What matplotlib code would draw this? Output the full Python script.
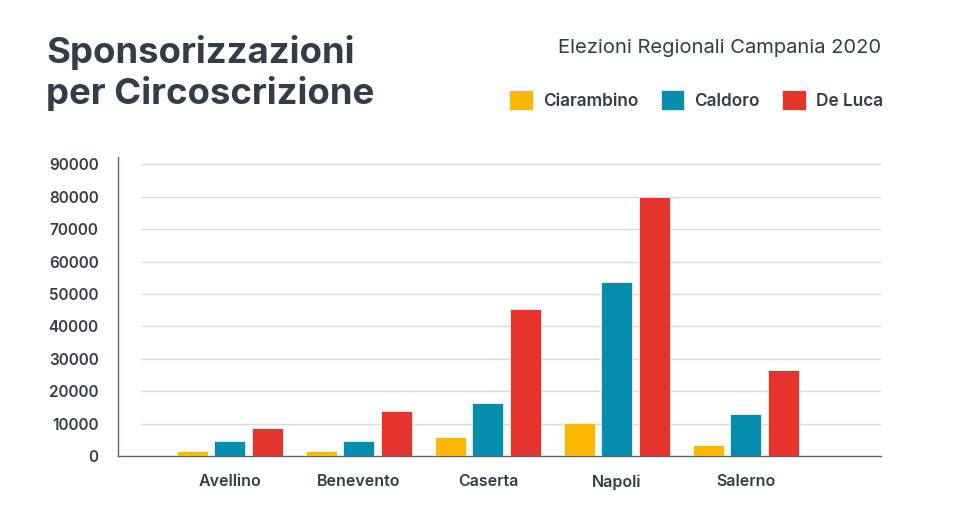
import matplotlib
matplotlib.use("Agg")
import matplotlib.pyplot as plt
import numpy as np

categories = ["Avellino", "Benevento", "Caserta", "Napoli", "Salerno"]
series_names = ["Ciarambino", "Caldoro", "De Luca"]
ciarambino = [1500, 1500, 5800, 10100, 3300]
caldoro = [4500, 4500, 16400, 53800, 12900]
de_luca = [8700, 13800, 45300, 80000, 26400]
yticks = [0, 10000, 20000, 30000, 40000, 50000, 60000, 70000, 80000, 90000]

colors = ["#FDB900", "#058DAD", "#E4342B"]
text_color = "#333D4A"
plt.rcParams['font.family'] = ['Inter', 'DejaVu Sans']

fig = plt.figure(figsize=(9.64, 5.12), dpi=100)
ax = fig.add_axes([118/964, 1-456/512, (881-118)/964, (456-157)/512])

x = np.arange(len(categories))
w = 0.24
step = 0.29
for i, (vals, name) in enumerate(zip([ciarambino, caldoro, de_luca], series_names)):
    ax.bar(x + (i-1)*step, vals, width=w, color=colors[i], label=name, zorder=3,
           edgecolor="white", linewidth=0.5)

ax.set_xlim(-0.868, 5.047)
ax.set_ylim(0, 92300)
for t in yticks[1:]:
    ax.axhline(t, xmin=(141-118)/(881-118), xmax=1, color="#DADADA", linewidth=1, zorder=1)

ax.set_yticks(yticks)
ax.set_yticklabels([str(t) for t in yticks], fontsize=11, fontweight="semibold", color=text_color)
ax.set_xticks(x)
ax.set_xticklabels(categories, fontsize=11.5, fontweight="semibold", color=text_color)
ax.tick_params(axis="y", length=0, pad=14)
ax.tick_params(axis="x", length=0, pad=13)
for s in ["top", "right"]:
    ax.spines[s].set_visible(False)
ax.spines["left"].set_color("#5A6472")
ax.spines["bottom"].set_color("#5A6472")
ax.spines["left"].set_linewidth(1)
ax.spines["bottom"].set_linewidth(1)

fig.text(46/964, 1-35/512, "Sponsorizzazioni\nper Circoscrizione", fontsize=26.3, fontweight="bold",
         color=text_color, ha="left", va="top", linespacing=1.2)
fig.text(881/964, 1-48/512, "Elezioni Regionali Campania 2020", fontsize=14.5,
         color=text_color, ha="right", va="center")

handles, labels = ax.get_legend_handles_labels()
leg = fig.legend(handles, labels, loc="center right", bbox_to_anchor=(883/964, 1-100/512),
                 ncol=3, frameon=False, fontsize=12.4, handlelength=1.35, handleheight=1.35,
                 handletextpad=0.6, columnspacing=1.3, borderaxespad=0, borderpad=0)
for t in leg.get_texts():
    t.set_color(text_color)
    t.set_fontweight("semibold")

fig.savefig("out.png", dpi=100)
